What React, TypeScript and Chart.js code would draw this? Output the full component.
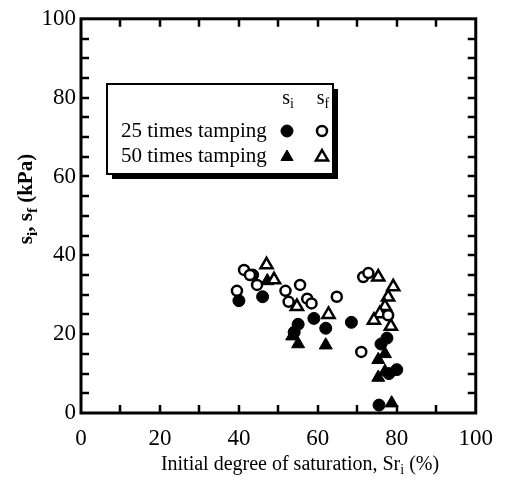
import React, { useEffect, useRef } from "react";
import { Chart, registerables } from "chart.js";

Chart.register(...registerables);

// ---- data (x = initial degree of saturation Sr_i %, y = suction kPa) ----
const si25: [number, number][] = [
  [40, 28.5], [43.5, 35], [46, 29.5], [54, 20.5], [55, 22.5], [59, 24],
  [62, 21.5], [68.5, 23], [76, 17.5], [77.5, 19], [78, 10], [80, 11], [75.5, 2],
];
const sf25: [number, number][] = [
  [39.5, 31], [41.3, 36.3], [42.8, 35], [44.6, 32.5], [51.8, 31], [52.6, 28.2],
  [55.5, 32.5], [57.3, 29], [58.4, 27.8], [64.8, 29.5], [71.5, 34.5], [72.8, 35.5],
  [77.8, 24.8], [71, 15.5],
];
const si50: [number, number][] = [
  [47.2, 33.5], [53.5, 19.5], [55, 17.5], [62, 17.2], [75.3, 13.5], [77, 15],
  [75.3, 9], [77, 10.5], [78.7, 2.5],
];
const sf50: [number, number][] = [
  [47, 37.6], [48.9, 33.8], [54.7, 27], [62.7, 25], [75.3, 34.5], [79.1, 32],
  [77.8, 29.4], [77, 27], [75.7, 25.2], [74.2, 23.5], [78.5, 22],
];

const xMin = 0, xMax = 100, xStep = 10, xLabelStep = 20;
const yMin = 0, yMax = 100, yStep = 5, yLabelStep = 20;
const legendRows = ["25 times tamping", "50 times tamping"];

const SERIF = "'Liberation Serif', 'Times New Roman', serif";

type Part = { t: string; sub?: boolean };

function richWidth(ctx: CanvasRenderingContext2D, parts: Part[], size: number, weight: string) {
  let w = 0;
  for (const p of parts) {
    ctx.font = `${weight} ${p.sub ? Math.round(size * 0.72) : size}px ${SERIF}`;
    w += ctx.measureText(p.t).width;
  }
  return w;
}

function drawRich(ctx: CanvasRenderingContext2D, parts: Part[], cx: number, cy: number, size: number, weight = "normal") {
  const w = richWidth(ctx, parts, size, weight);
  let x = cx - w / 2;
  ctx.textBaseline = "middle";
  ctx.textAlign = "left";
  for (const p of parts) {
    const s = p.sub ? Math.round(size * 0.72) : size;
    ctx.font = `${weight} ${s}px ${SERIF}`;
    ctx.fillText(p.t, x, p.sub ? cy + size * 0.28 : cy);
    x += ctx.measureText(p.t).width;
  }
}

function marker(ctx: CanvasRenderingContext2D, kind: "circle" | "triangle", filled: boolean, x: number, y: number) {
  ctx.save();
  ctx.beginPath();
  if (kind === "circle") {
    ctx.arc(x, y, filled ? 6 : 5, 0, Math.PI * 2);
  } else {
    const r = 7;
    ctx.moveTo(x, y - r);
    ctx.lineTo(x + r * 0.866, y + r * 0.5);
    ctx.lineTo(x - r * 0.866, y + r * 0.5);
    ctx.closePath();
  }
  ctx.fillStyle = filled ? "#000" : "#fff";
  ctx.fill();
  ctx.lineWidth = filled ? 1 : 2.5;
  ctx.strokeStyle = "#000";
  ctx.stroke();
  ctx.restore();
}

const framePlugin = {
  id: "frameTicks",
  afterDatasetsDraw(chart: any) {
    const { ctx, chartArea: a, scales } = chart;
    const xs = scales.x, ys = scales.y;
    ctx.save();
    ctx.strokeStyle = "#000";
    ctx.lineWidth = 2.5;
    const tl = 8;
    ctx.beginPath();
    for (const t of xs.ticks) {
      if (t.value <= xMin || t.value >= xMax) continue;
      const px = Math.round(xs.getPixelForValue(t.value));
      ctx.moveTo(px, a.bottom); ctx.lineTo(px, a.bottom - tl);
      ctx.moveTo(px, a.top); ctx.lineTo(px, a.top + tl);
    }
    for (const t of ys.ticks) {
      if (t.value <= yMin || t.value >= yMax) continue;
      const py = Math.round(ys.getPixelForValue(t.value));
      ctx.moveTo(a.left, py); ctx.lineTo(a.left + tl, py);
      ctx.moveTo(a.right, py); ctx.lineTo(a.right - tl, py);
    }
    ctx.stroke();
    ctx.lineWidth = 3;
    ctx.strokeRect(a.left, a.top, a.right - a.left, a.bottom - a.top);

    // legend box with shadow
    const bx = 107, by = 84, bw = 226, bh = 90, sh = 5;
    ctx.fillStyle = "#000";
    ctx.fillRect(bx + sh, by + sh, bw, bh);
    ctx.fillStyle = "#fff";
    ctx.fillRect(bx, by, bw, bh);
    ctx.lineWidth = 2;
    ctx.strokeRect(bx, by, bw, bh);

    ctx.fillStyle = "#000";
    const c1 = 287, c2 = 322;
    drawRich(ctx, [{ t: "s" }, { t: "i", sub: true }], c1 + 1, 99, 20);
    drawRich(ctx, [{ t: "s" }, { t: "f", sub: true }], c2 + 1, 99, 20);
    ctx.font = `21px ${SERIF}`;
    ctx.textAlign = "left";
    ctx.textBaseline = "middle";
    ctx.fillText(legendRows[0], 121, 131);
    ctx.fillText(legendRows[1], 121, 156);
    marker(ctx, "circle", true, c1, 131);
    marker(ctx, "circle", false, c2, 131);
    marker(ctx, "triangle", true, c1, 157);
    marker(ctx, "triangle", false, c2, 157);

    // axis titles
    ctx.fillStyle = "#000";
    drawRich(ctx, [
      { t: "Initial degree of saturation, Sr" }, { t: "i", sub: true }, { t: " (%)" },
    ], 300, 465, 20);
    ctx.save();
    ctx.translate(27, 199);
    ctx.rotate(-Math.PI / 2);
    drawRich(ctx, [
      { t: "s" }, { t: "i", sub: true }, { t: ", s" }, { t: "f", sub: true }, { t: " (kPa)" },
    ], 0, 0, 21, "bold");
    ctx.restore();
    ctx.restore();
  },
};

export default function App() {
  const ref = useRef<HTMLCanvasElement | null>(null);
  useEffect(() => {
    document.body.style.margin = "0";
    const toPts = (arr: [number, number][]) => arr.map(([x, y]) => ({ x, y }));
    const chart = new Chart(ref.current as HTMLCanvasElement, {
      type: "scatter",
      data: {
        datasets: [
          { label: "sf25", data: toPts(sf25), pointStyle: "circle", pointRadius: 5, backgroundColor: "#fff", borderColor: "#000", borderWidth: 2.5, order: 0 },
          { label: "sf50", data: toPts(sf50), pointStyle: "triangle", pointRadius: 7, backgroundColor: "#fff", borderColor: "#000", borderWidth: 2.5, order: 0 },
          { label: "si25", data: toPts(si25), pointStyle: "circle", pointRadius: 6, backgroundColor: "#000", borderColor: "#000", borderWidth: 1, order: 1 },
          { label: "si50", data: toPts(si50), pointStyle: "triangle", pointRadius: 7.5, backgroundColor: "#000", borderColor: "#000", borderWidth: 1, order: 1 },
        ],
      },
      options: {
        animation: false,
        responsive: false,
        maintainAspectRatio: false,
        layout: { padding: { top: 18, right: 27, left: 0, bottom: 0 } },
        plugins: { legend: { display: false }, tooltip: { enabled: false } },
        scales: {
          x: {
            type: "linear", min: xMin, max: xMax,
            ticks: {
              stepSize: xStep, autoSkip: false, maxRotation: 0, padding: 12,
              color: "#000", font: { family: SERIF, size: 23 },
              callback: (v: any) => (v % xLabelStep === 0 ? String(v) : ""),
            },
            grid: { display: false, drawTicks: false },
            border: { display: false },
            afterFit: (s: any) => { s.height = 68; },
          },
          y: {
            type: "linear", min: yMin, max: yMax,
            ticks: {
              stepSize: yStep, autoSkip: false, padding: 5,
              color: "#000", font: { family: SERIF, size: 23 },
              callback: (v: any) => (v % yLabelStep === 0 ? String(v) : ""),
            },
            grid: { display: false, drawTicks: false },
            border: { display: false },
            afterFit: (s: any) => { s.width = 81; },
          },
        },
      },
      plugins: [framePlugin],
    });
    return () => chart.destroy();
  }, []);
  return (
    <div style={{ position: "fixed", left: 0, top: 0, width: 505, height: 481, background: "#fff" }}>
      <canvas ref={ref} width={505} height={481} style={{ width: 505, height: 481 }} />
    </div>
  );
}
